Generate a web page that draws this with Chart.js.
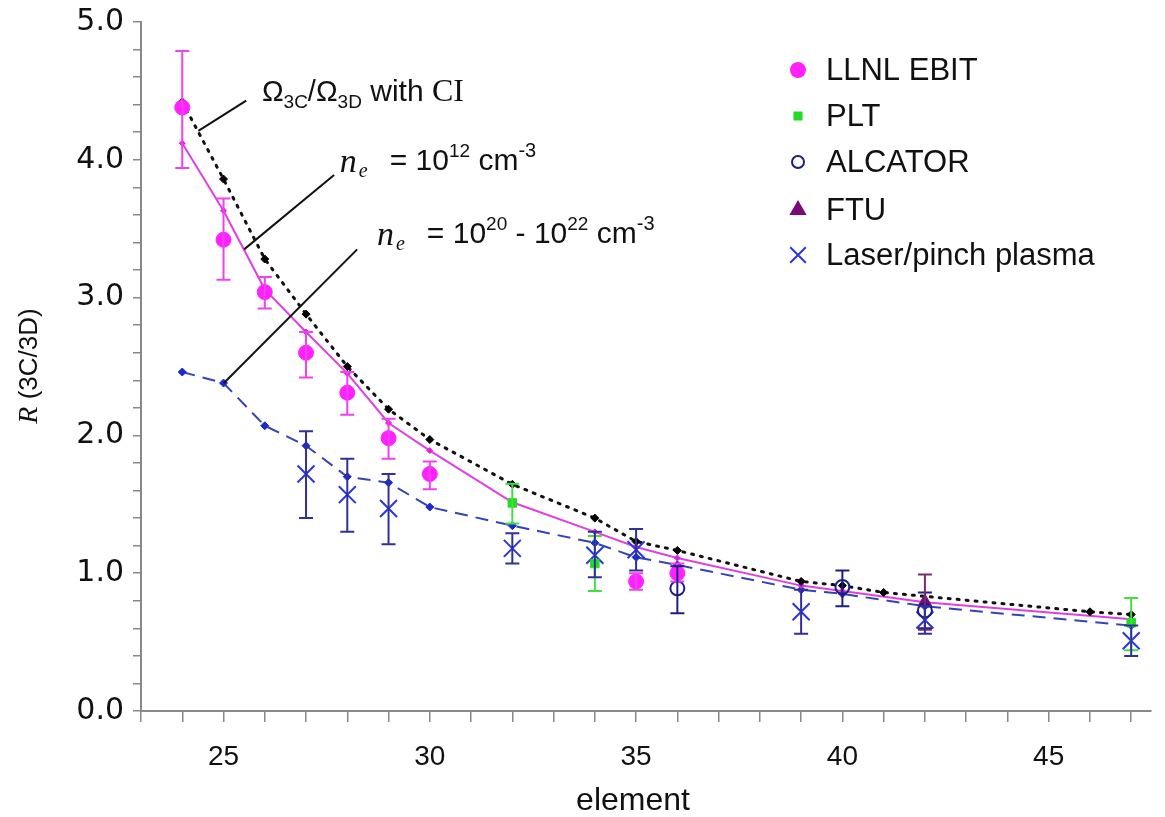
<!DOCTYPE html>
<html>
<head>
<meta charset="utf-8">
<script src="https://cdn.jsdelivr.net/npm/chart.js@4.4.1/dist/chart.umd.min.js"></script>
<style>
  html, body { margin: 0; padding: 0; background: #fff; }
  #wrap { width: 1165px; height: 817px; position: relative; }
</style>
</head>
<body>
<div id="wrap"><canvas id="ratioChart"></canvas></div>
<script>
// ===== DATA =====
// theory: Omega_3C / Omega_3D with CI (black dotted)
const ciElem = [24, 25, 26, 27, 28, 29, 30, 32, 34, 35, 36, 39, 40, 41, 46, 47];
const ciR    = [4.42, 3.86, 3.28, 2.88, 2.50, 2.19, 1.97, 1.645, 1.40, 1.23, 1.165, 0.94, 0.91, 0.86, 0.72, 0.70];

// model n_e = 1e12 cm^-3 (magenta solid)
const lowElem = [24, 25, 26, 27, 28, 29, 30, 32, 34, 35, 36, 39, 40, 42, 47];
const lowR    = [4.12, 3.63, 3.06, 2.75, 2.45, 2.09, 1.89, 1.515, 1.30, 1.19, 1.11, 0.91, 0.87, 0.79, 0.665];

// model n_e = 1e20 - 1e22 cm^-3 (blue dashed)
const highElem = [24, 25, 26, 27, 28, 29, 30, 32, 34, 35, 36, 39, 40, 42, 47];
const highR    = [2.46, 2.38, 2.07, 1.925, 1.70, 1.657, 1.48, 1.345, 1.22, 1.115, 1.06, 0.88, 0.85, 0.76, 0.62];

// measurements
const llnlElem = [24, 25, 26, 27, 28, 29, 30, 35, 36];
const llnlR    = [4.38, 3.42, 3.04, 2.60, 2.31, 1.98, 1.72, 0.94, 1.00];
const llnlLo   = [3.94, 3.13, 2.92, 2.42, 2.15, 1.83, 1.61, 0.88, 0.94];
const llnlHi   = [4.79, 3.72, 3.15, 2.75, 2.46, 2.12, 1.81, 1.00, 1.07];

const pltElem = [32, 34, 47];
const pltR    = [1.51, 1.07, 0.64];
const pltLo   = [1.36, 0.87, 0.44];
const pltHi   = [1.65, 1.27, 0.82];

const alcElem = [36, 40, 42];
const alcR    = [0.89, 0.90, 0.73];
const alcLo   = [0.71, 0.76, 0.60];
const alcHi   = [1.05, 1.02, 0.86];

const ftuElem = [42];
const ftuR    = [0.79];
const ftuLo   = [0.59];
const ftuHi   = [0.99];

const laserElem = [27, 28, 29, 32, 34, 35, 39, 42, 47];
const laserR    = [1.72, 1.57, 1.47, 1.18, 1.13, 1.17, 0.72, 0.66, 0.51];
const laserLo   = [1.40, 1.30, 1.21, 1.07, 0.97, 1.02, 0.56, 0.56, 0.40];
const laserHi   = [2.03, 1.83, 1.72, 1.29, 1.30, 1.32, 0.88, 0.76, 0.62];

// axis ticks
const xLabelTicks = [25, 30, 35, 40, 45];
const yLabelTicks = [0, 1, 2, 3, 4, 5];

const SANS = '"Liberation Sans", Arial, Helvetica, sans-serif';
const SERIF = '"Liberation Serif", "Times New Roman", serif';

function toPts(xs, ys) {
    return xs.map((x, i) => ({ x: x, y: ys[i] }));
}

// ===== ERROR BARS =====
const errorBars = {
    id: 'errorBars',
    afterDatasetsDraw(chart) {
        const c = chart.ctx;
        const xs = chart.scales.x, ys = chart.scales.y;
        chart.data.datasets.forEach((ds, i) => {
            if (!ds.errLo || !chart.isDatasetVisible(i)) return;
            c.save();
            c.strokeStyle = ds.errColor;
            c.lineWidth = 2;
            ds.data.forEach((p, j) => {
                const px = xs.getPixelForValue(p.x);
                const yl = ys.getPixelForValue(ds.errLo[j]);
                const yh = ys.getPixelForValue(ds.errHi[j]);
                c.beginPath();
                c.moveTo(px, yl); c.lineTo(px, yh);
                c.moveTo(px - 7, yl); c.lineTo(px + 7, yl);
                c.moveTo(px - 7, yh); c.lineTo(px + 7, yh);
                c.stroke();
            });
            c.restore();
        });
    }
};

// ===== TEXT HELPERS =====
function drawRuns(c, x, y, runs) {
    runs.forEach(r => {
        c.font = r.font;
        x += (r.gap || 0);
        c.fillText(r.t, x, y + (r.dy || 0));
        x += c.measureText(r.t).width;
    });
}

// ===== ANNOTATIONS, LEGEND, AXIS TITLES =====
const overlay = {
    id: 'overlay',
    afterDraw(chart) {
        const c = chart.ctx;
        const xs = chart.scales.x, ys = chart.scales.y;
        const P = (ex, r) => [xs.getPixelForValue(ex), ys.getPixelForValue(r)];

        // leader lines
        c.save();
        c.strokeStyle = '#111';
        c.lineWidth = 2;
        [[[24.39, 4.21], [25.55, 4.43]],
         [[25.50, 3.35], [27.68, 3.89]],
         [[25.01, 2.38], [28.24, 3.35]]].forEach(seg => {
            const a = P(seg[0][0], seg[0][1]), b = P(seg[1][0], seg[1][1]);
            c.beginPath(); c.moveTo(a[0], a[1]); c.lineTo(b[0], b[1]); c.stroke();
        });

        c.fillStyle = '#111';
        c.textBaseline = 'alphabetic';
        c.textAlign = 'left';

        let a = P(25.93, 4.427);
        drawRuns(c, a[0], a[1], [
            { t: 'Ω', font: '29px ' + SANS },
            { t: '3C', font: '19px ' + SANS, dy: 7 },
            { t: '/Ω', font: '29px ' + SANS },
            { t: '3D', font: '19px ' + SANS, dy: 7 },
            { t: ' with ', font: '30px ' + SANS },
            { t: 'CI', font: '32px ' + SERIF }
        ]);

        a = P(27.82, 3.91);
        drawRuns(c, a[0], a[1], [
            { t: 'n', font: 'italic 34px ' + SERIF },
            { t: 'e', font: 'italic 20px ' + SERIF, dy: 5, gap: 2 },
            { t: '= 10', font: '30px ' + SANS, gap: 22, dy: -2 },
            { t: '12', font: '19px ' + SANS, dy: -15 },
            { t: ' cm', font: '30px ' + SANS, dy: -2 },
            { t: '-3', font: '20px ' + SANS, dy: -15 }
        ]);

        a = P(28.72, 3.38);
        drawRuns(c, a[0], a[1], [
            { t: 'n', font: 'italic 34px ' + SERIF },
            { t: 'e', font: 'italic 20px ' + SERIF, dy: 5, gap: 2 },
            { t: '= 10', font: '30px ' + SANS, gap: 22, dy: -2 },
            { t: '20', font: '19px ' + SANS, dy: -15 },
            { t: ' - 10', font: '30px ' + SANS, dy: -2 },
            { t: '22', font: '19px ' + SANS, dy: -15 },
            { t: ' cm', font: '30px ' + SANS, dy: -2 },
            { t: '-3', font: '20px ' + SANS, dy: -15 }
        ]);

        // legend (measurement series only)
        const lx = 798, tx = 826;
        const rows = [70, 116, 162, 210, 255];
        chart.data.datasets.slice(0, 5).forEach((ds, i) => {
            const y = rows[i];
            c.save();
            c.fillStyle = ds.backgroundColor;
            c.strokeStyle = ds.borderColor;
            Chart.helpers.drawPoint(c, {
                pointStyle: ds.pointStyle,
                radius: ds.legendRadius,
                borderWidth: ds.borderWidth,
                rotation: 0
            }, lx, y);
            c.restore();
            c.fillStyle = '#111';
            c.font = '31px ' + SANS;
            c.textBaseline = 'middle';
            c.fillText(ds.label, tx, y + 1);
        });

        // x axis title
        c.textAlign = 'center';
        c.textBaseline = 'middle';
        c.font = '32px ' + SANS;
        c.fillText('element', 633, 801);

        // y axis title
        c.save();
        c.translate(30, 366);
        c.rotate(-Math.PI / 2);
        c.textAlign = 'left';
        c.textBaseline = 'middle';
        c.font = 'italic 28px ' + SERIF;
        const w1 = c.measureText('R').width;
        c.font = '26px ' + SANS;
        const w2 = c.measureText(' (3C/3D)').width;
        let x0 = -(w1 + w2) / 2;
        c.font = 'italic 28px ' + SERIF;
        c.fillText('R', x0, 0);
        c.font = '26px ' + SANS;
        c.fillText(' (3C/3D)', x0 + w1, 0);
        c.restore();
        c.restore();
    }
};

// ===== CHART =====
const ctx = document.getElementById('ratioChart');
new Chart(ctx, {
    type: 'scatter',
    data: {
        datasets: [
            {
                label: 'LLNL EBIT', data: toPts(llnlElem, llnlR),
                errLo: llnlLo, errHi: llnlHi, errColor: '#f040f0',
                pointStyle: 'circle', pointRadius: 7.5, legendRadius: 7,
                backgroundColor: '#ff22ff', borderColor: '#ff22ff', borderWidth: 1
            },
            {
                label: 'PLT', data: toPts(pltElem, pltR),
                errLo: pltLo, errHi: pltHi, errColor: '#44dd44',
                pointStyle: 'rect', pointRadius: 6, legendRadius: 5,
                backgroundColor: '#22dd22', borderColor: '#22dd22', borderWidth: 1
            },
            {
                label: 'ALCATOR', data: toPts(alcElem, alcR),
                errLo: alcLo, errHi: alcHi, errColor: '#1e1e80',
                pointStyle: 'circle', pointRadius: 7, legendRadius: 6,
                backgroundColor: 'rgba(255,255,255,0)', borderColor: '#1e1e80', borderWidth: 2
            },
            {
                label: 'FTU', data: toPts(ftuElem, ftuR),
                errLo: ftuLo, errHi: ftuHi, errColor: '#7a2a70',
                pointStyle: 'triangle', pointRadius: 8, legendRadius: 8,
                backgroundColor: '#7a0a78', borderColor: '#7a0a78', borderWidth: 1
            },
            {
                label: 'Laser/pinch plasma', data: toPts(laserElem, laserR),
                errLo: laserLo, errHi: laserHi, errColor: '#30309a',
                pointStyle: 'crossRot', pointRadius: 12, legendRadius: 11,
                backgroundColor: '#2a36dd', borderColor: '#2a36dd', borderWidth: 2
            },
            {
                label: 'CI', data: toPts(ciElem, ciR), showLine: true,
                borderColor: '#111', borderWidth: 3, borderDash: [2, 7], borderCapStyle: 'round',
                pointStyle: 'rectRot', pointRadius: 4,
                pointBackgroundColor: '#000', pointBorderColor: '#000', pointBorderWidth: 1
            },
            {
                label: 'ne12', data: toPts(lowElem, lowR), showLine: true,
                borderColor: '#e040e0', borderWidth: 2,
                pointStyle: 'rectRot', pointRadius: 3,
                pointBackgroundColor: '#e020e0', pointBorderColor: '#e020e0', pointBorderWidth: 1
            },
            {
                label: 'ne20', data: toPts(highElem, highR), showLine: true,
                borderColor: '#3444b4', borderWidth: 2, borderDash: [13, 8],
                pointStyle: 'rectRot', pointRadius: 4,
                pointBackgroundColor: '#1a2ad0', pointBorderColor: '#1a2ad0', pointBorderWidth: 1
            }
        ]
    },
    options: {
        responsive: true,
        maintainAspectRatio: false,
        animation: false,
        events: [],
        layout: { padding: { top: 22, right: 2, left: 0, bottom: 0 } },
        plugins: {
            legend: { display: false },
            tooltip: { enabled: false }
        },
        scales: {
            x: {
                type: 'linear', min: 23, max: 47.48,
                ticks: {
                    stepSize: 1, includeBounds: false, autoSkip: false, maxRotation: 0,
                    padding: 18, color: '#111',
                    font: { family: SANS, size: 28 },
                    callback: v => xLabelTicks.includes(v) ? String(v) : ''
                },
                grid: { drawOnChartArea: false, drawTicks: true, tickLength: 11, color: '#888', lineWidth: 1.5 },
                border: { color: '#888', width: 2 },
                title: { display: false },
                afterFit: s => { s.height = 106; s.paddingLeft = 0; s.paddingRight = 0; }
            },
            y: {
                min: 0, max: 5,
                ticks: {
                    stepSize: 0.2, autoSkip: false, padding: 9, color: '#111',
                    font: { family: '"DejaVu Sans", Verdana, sans-serif', size: 30 },
                    callback: v => {
                        const r = Math.round(v);
                        return (Math.abs(v - r) < 1e-6 && yLabelTicks.includes(r)) ? r.toFixed(1) : '';
                    }
                },
                grid: { drawOnChartArea: false, drawTicks: true, tickLength: 8, color: '#888', lineWidth: 1.5 },
                border: { color: '#888', width: 2 },
                afterFit: s => { s.width = 141; s.paddingTop = 0; s.paddingBottom = 0; }
            }
        }
    },
    plugins: [errorBars, overlay]
});
</script>
</body>
</html>
